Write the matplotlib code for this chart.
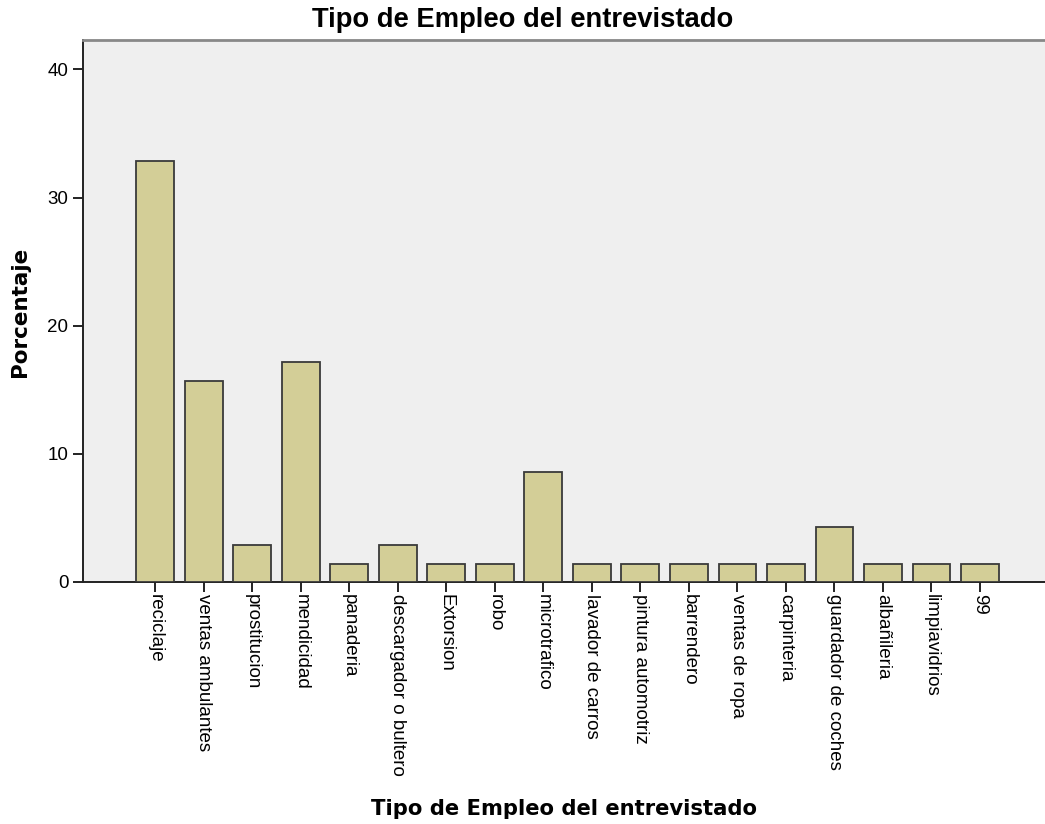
import matplotlib.pyplot as plt

# ==============================
# Data
# ==============================

categorias = ["reciclaje", "ventas ambulantes", "prostitucion", "mendicidad",
              "panaderia", "descargador o bultero", "Extorsion", "robo",
              "microtrafico", "lavador de carros", "pintura automotriz",
              "barrendero", "ventas de ropa", "carpinteria",
              "guardador de coches", "albañileria", "limpiavidrios", "99"]
porcentaje = [32.86, 15.71, 2.86, 17.14, 1.43, 2.86, 1.43, 1.43, 8.57,
              1.43, 1.43, 1.43, 1.43, 1.43, 4.29, 1.43, 1.43, 1.43]
y_ticks = [0, 10, 20, 30, 40]

# ==============================
# Plot
# ==============================

fig = plt.figure(figsize=(10.45, 8.24), dpi=100)
ax = fig.add_axes([83 / 1045, 1 - 582 / 824, 1 - 83 / 1045, (582 - 40) / 824])
ax.set_facecolor("#efefef")

x = list(range(len(categorias)))
ax.bar(x, porcentaje, width=0.78, color="#d3ce97", edgecolor="#3a3a3a",
       linewidth=1.3, zorder=3)

ax.set_xlim(-1.49, 18.34)
ax.set_ylim(0, 42.3)
ax.set_xticks(x)
ax.set_xticklabels(categorias, rotation=270, ha="center", va="top",
                   family="Liberation Sans", fontsize=13.5)
ax.set_yticks(y_ticks)
ax.set_yticklabels([str(v) for v in y_ticks], family="Liberation Sans", fontsize=13.5)
ax.tick_params(axis="both", direction="out", length=7, width=1.4, color="#222222")
ax.tick_params(axis="x", pad=2)

for s in ["left", "bottom"]:
    ax.spines[s].set_color("#222222")
    ax.spines[s].set_linewidth(1.4)
ax.spines["top"].set_color("#888888")
ax.spines["top"].set_linewidth(2)
ax.spines["right"].set_visible(False)

# title centred on the figure, axis label centred on the plot area
fig.text(0.5, 1 - 20 / 824, "Tipo de Empleo del entrevistado",
         ha="center", va="center", fontsize=19.7, fontweight="bold", family="Liberation Sans")
fig.text(564 / 1045, 1 - 809 / 824, "Tipo de Empleo del entrevistado",
         ha="center", va="center", fontsize=15.2, fontweight="bold", family="DejaVu Sans")
fig.text(20 / 1045, 1 - 312 / 824, "Porcentaje", rotation=90,
         ha="center", va="center", fontsize=15.5, fontweight="bold", family="DejaVu Sans")

fig.savefig("out.png", dpi=100)
